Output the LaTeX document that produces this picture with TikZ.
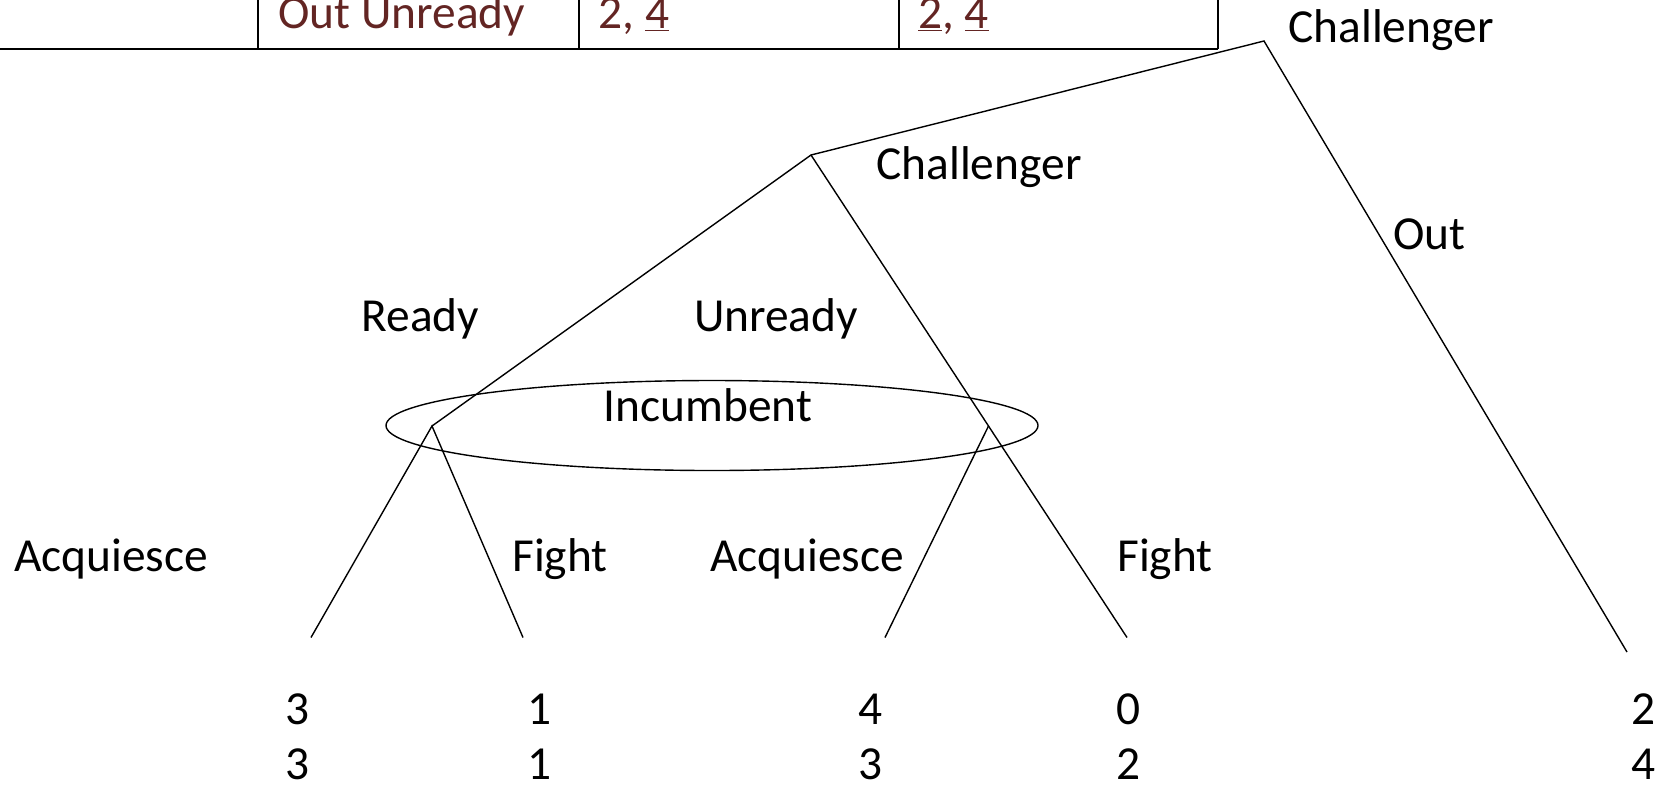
\documentclass[tikz,border=0pt]{standalone}
\usepackage{fontspec}
\setmainfont{Carlito}
\definecolor{tablered}{RGB}{99,37,35}
\begin{document}
\begin{tikzpicture}[x=0.5pt,y=-0.5pt,
  lbl/.style={inner sep=0pt,anchor=base,font=\fontsize{23.7}{28}\selectfont},
  cell/.style={lbl,anchor=base west,text=tablered},
  branch/.style={line width=0.7pt},
  rule/.style={line width=1.1pt}]
\useasboundingbox (0,0) rectangle (1666,784);

% payoff table (lower edge)
\draw[rule] (0,49) -- (1218,49);
\foreach \x in {258,579,899,1218} \draw[rule] (\x,0) -- (\x,49);
\node[cell] (t1) at (278,28) {Out Unready};
\node[cell] (t2) at (598,28) {2, \underline{4}};
\node[cell] (t3) at (918,28) {\underline{2}, \underline{4}};

% decision points and terminal ends
\coordinate (root) at (1264,41);
\coordinate (ch2) at (811,155);
\coordinate (inL) at (432,426);
\coordinate (inR) at (988.5,426);
\coordinate (outEnd) at (1627,652);
\coordinate (lAcq) at (311,637.5);
\coordinate (lFig) at (523,637.5);
\coordinate (rAcq) at (885,637.5);
\coordinate (rFig) at (1127,637.5);

% branches
\draw[branch] (ch2) -- (root) -- (outEnd);
\draw[branch] (inL) -- (ch2) -- (inR) -- (rFig);
\draw[branch] (lAcq) -- (inL) -- (lFig);
\draw[branch] (inR) -- (rAcq);

% information set
\draw[branch] (712,425.5) ellipse [x radius=326, y radius=45];

% player and move labels
\node[lbl,anchor=base west] (pRoot) at (1288,42) {Challenger};
\node[lbl,anchor=base west] (pCh2) at (876,179) {Challenger};
\node[lbl,anchor=base west] (mOut) at (1393,249) {Out};
\node[lbl] (mReady) at (420.5,331) {Ready};
\node[lbl] (mUnready) at (776,331) {Unready};
\node[lbl] (pInc) at (708,421) {Incumbent};
\node[lbl] (mAcqL) at (111,571) {Acquiesce};
\node[lbl] (mFigL) at (560,571) {Fight};
\node[lbl] (mAcqR) at (807,571) {Acquiesce};
\node[lbl] (mFigR) at (1165,571) {Fight};

% payoffs
\foreach \x/\a/\b [count=\i] in {297.5/3/3, 540/1/1, 871/4/3, 1128/0/2, 1643/2/4} {
  \node[lbl] (pa\i) at (\x,724) {\a};
  \node[lbl] (pb\i) at (\x,779) {\b};
}
\end{tikzpicture}
\end{document}
